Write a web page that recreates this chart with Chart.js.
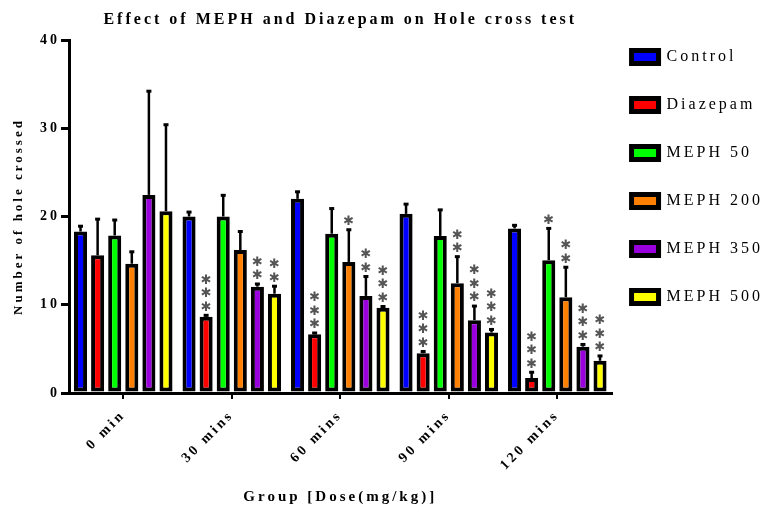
<!DOCTYPE html>
<html>
<head>
<meta charset="utf-8">
<script src="https://cdn.jsdelivr.net/npm/chart.js@4/dist/chart.umd.min.js"></script>
<style>
  html, body { margin: 0; padding: 0; background: #fff; }
  #wrap { width: 773px; height: 506px; }
</style>
</head>
<body>
<div id="wrap"><canvas id="holeCross"></canvas></div>
<script>
// Group labels (x axis)
const groups = ['0 min', '30 mins', '60 mins', '90 mins', '120 mins'];

// Mean values per treatment
const control  = [18.3, 20.0, 22.0, 20.3, 18.65];
const diazepam = [15.6, 8.65, 6.65, 4.5, 1.7];
const meph50   = [17.85, 20.0, 18.05, 17.8, 15.05];
const meph200  = [14.65, 16.2, 14.85, 12.45, 10.85];
const meph350  = [22.45, 12.05, 11.0, 8.25, 5.25];
const meph500  = [20.6, 11.25, 9.65, 6.85, 3.65];

// SEM (upper error bar length)
const controlSem  = [0.6, 0.5, 0.8, 1.1, 0.35];
const diazepamSem = [4.1, 0.15, 0.15, 0.2, 0.65];
const meph50Sem   = [1.75, 2.4, 2.85, 2.95, 3.6];
const meph200Sem  = [1.35, 2.1, 3.65, 3.0, 3.4];
const meph350Sem  = [11.75, 0.3, 2.2, 1.6, 0.25];
const meph500Sem  = [9.8, 0.85, 0.15, 0.35, 0.55];

// number of significance stars above each bar
const controlStars  = [0, 0, 0, 0, 0];
const diazepamStars = [0, 3, 3, 3, 3];
const meph50Stars   = [0, 0, 0, 0, 1];
const meph200Stars  = [0, 0, 1, 2, 2];
const meph350Stars  = [0, 2, 2, 3, 3];
const meph500Stars  = [0, 2, 3, 3, 3];

const serif = "'Liberation Serif', 'Times New Roman', serif";

const series = [
  { label: 'Control',   data: control,  sem: controlSem,  stars: controlStars,  color: '#0000ff' },
  { label: 'Diazepam',  data: diazepam, sem: diazepamSem, stars: diazepamStars, color: '#ff0000' },
  { label: 'MEPH 50',   data: meph50,   sem: meph50Sem,   stars: meph50Stars,   color: '#00ff00' },
  { label: 'MEPH 200',  data: meph200,  sem: meph200Sem,  stars: meph200Stars,  color: '#ff8000' },
  { label: 'MEPH 350',  data: meph350,  sem: meph350Sem,  stars: meph350Stars,  color: '#9900dd' },
  { label: 'MEPH 500',  data: meph500,  sem: meph500Sem,  stars: meph500Stars,  color: '#ffff00' }
];

// wide letter spacing used on every text of the original
const spacing = {
  id: 'spacing',
  beforeUpdate(chart) { chart.ctx.letterSpacing = '3px'; },
  beforeRender(chart) { chart.ctx.letterSpacing = '3px'; }
};

// one-sided error bars + significance stars
const errorBars = {
  id: 'errorBars',
  afterDatasetsDraw(chart) {
    const ctx = chart.ctx;
    const yScale = chart.scales.y;
    series.forEach((s, i) => {
      const meta = chart.getDatasetMeta(i);
      meta.data.forEach((bar, j) => {
        const top = yScale.getPixelForValue(s.data[j] + s.sem[j]);
        ctx.save();
        ctx.strokeStyle = '#000';
        ctx.lineWidth = 2.5;
        ctx.beginPath();
        ctx.moveTo(bar.x, bar.y);
        ctx.lineTo(bar.x, top);
        ctx.stroke();
        ctx.lineWidth = 3;
        ctx.beginPath();
        ctx.moveTo(bar.x - 2.5, top);
        ctx.lineTo(bar.x + 2.5, top);
        ctx.stroke();

        ctx.letterSpacing = '0px';
        ctx.fillStyle = '#555';
        ctx.font = "13px 'DejaVu Sans'";
        ctx.textAlign = 'center';
        ctx.textBaseline = 'middle';
        for (let k = 0; k < s.stars[j]; k++) {
          ctx.fillText('\u2731', bar.x, top - 8 - k * 13.5);
        }
        ctx.restore();
      });
    });
  }
};

const data = {
  labels: groups,
  datasets: series.map(s => ({
    label: s.label,
    data: s.data,
    backgroundColor: s.color,
    borderColor: '#000',
    borderWidth: 4,
    borderSkipped: false,
    categoryPercentage: 0.945,
    barPercentage: 0.765
  }))
};

const config = {
  type: 'bar',
  data: data,
  options: {
    responsive: true,
    maintainAspectRatio: false,
    animation: false,
    layout: { padding: 0 },
    plugins: {
      title: {
        display: true,
        fullSize: false,
        text: 'Effect of MEPH and Diazepam on Hole cross test',
        color: '#000',
        font: { family: serif, size: 16, weight: 'bold' },
        padding: { top: 10, bottom: 10.8 }
      },
      legend: {
        display: true,
        position: 'right',
        align: 'start',
        maxWidth: 162,
        title: {
          display: true,
          text: ' ',
          font: { size: 10, lineHeight: '29px' },
          padding: 0
        },
        labels: {
          boxWidth: 27,
          boxHeight: 13,
          padding: 20,
          color: '#000',
          font: { family: serif, size: 16, lineHeight: '28px' },
          generateLabels: chart => chart.data.datasets.map((ds, i) => ({
            text: [ds.label],
            fillStyle: ds.backgroundColor,
            strokeStyle: '#000',
            fontColor: '#000',
            lineWidth: 5,
            hidden: false,
            datasetIndex: i
          }))
        }
      },
      tooltip: { enabled: false }
    },
    scales: {
      x: {
        offset: true,
        grid: {
          display: true,
          drawOnChartArea: false,
          offset: false,
          tickLength: 6,
          lineWidth: 2,
          color: '#000'
        },
        border: { display: true, width: 3, color: '#000' },
        ticks: {
          autoSkip: false,
          minRotation: 45,
          maxRotation: 45,
          padding: 8,
          color: '#000',
          font: { family: serif, size: 14, weight: 'bold' }
        },
        title: {
          display: true,
          text: 'Group [Dose(mg/kg)]',
          color: '#000',
          font: { family: serif, size: 15, weight: 'bold' },
          padding: { top: 4, bottom: 0 }
        },
        afterFit(scale) { scale.height = 113; }
      },
      y: {
        min: 0,
        max: 40,
        grid: {
          display: true,
          drawOnChartArea: false,
          tickLength: 8,
          lineWidth: 3,
          color: '#000'
        },
        border: { display: true, width: 3, color: '#000' },
        ticks: {
          stepSize: 10,
          padding: 1,
          color: '#000',
          font: { family: serif, size: 14, weight: 'bold' }
        },
        title: {
          display: true,
          text: 'Number of hole crossed',
          color: '#000',
          font: { family: serif, size: 13, weight: 'bold' },
          padding: { top: 11, bottom: 0 }
        },
        afterFit(scale) { scale.width = 69; }
      }
    }
  },
  plugins: [spacing, errorBars]
};

const holeChart = new Chart(document.getElementById('holeCross'), config);
</script>
</body>
</html>
